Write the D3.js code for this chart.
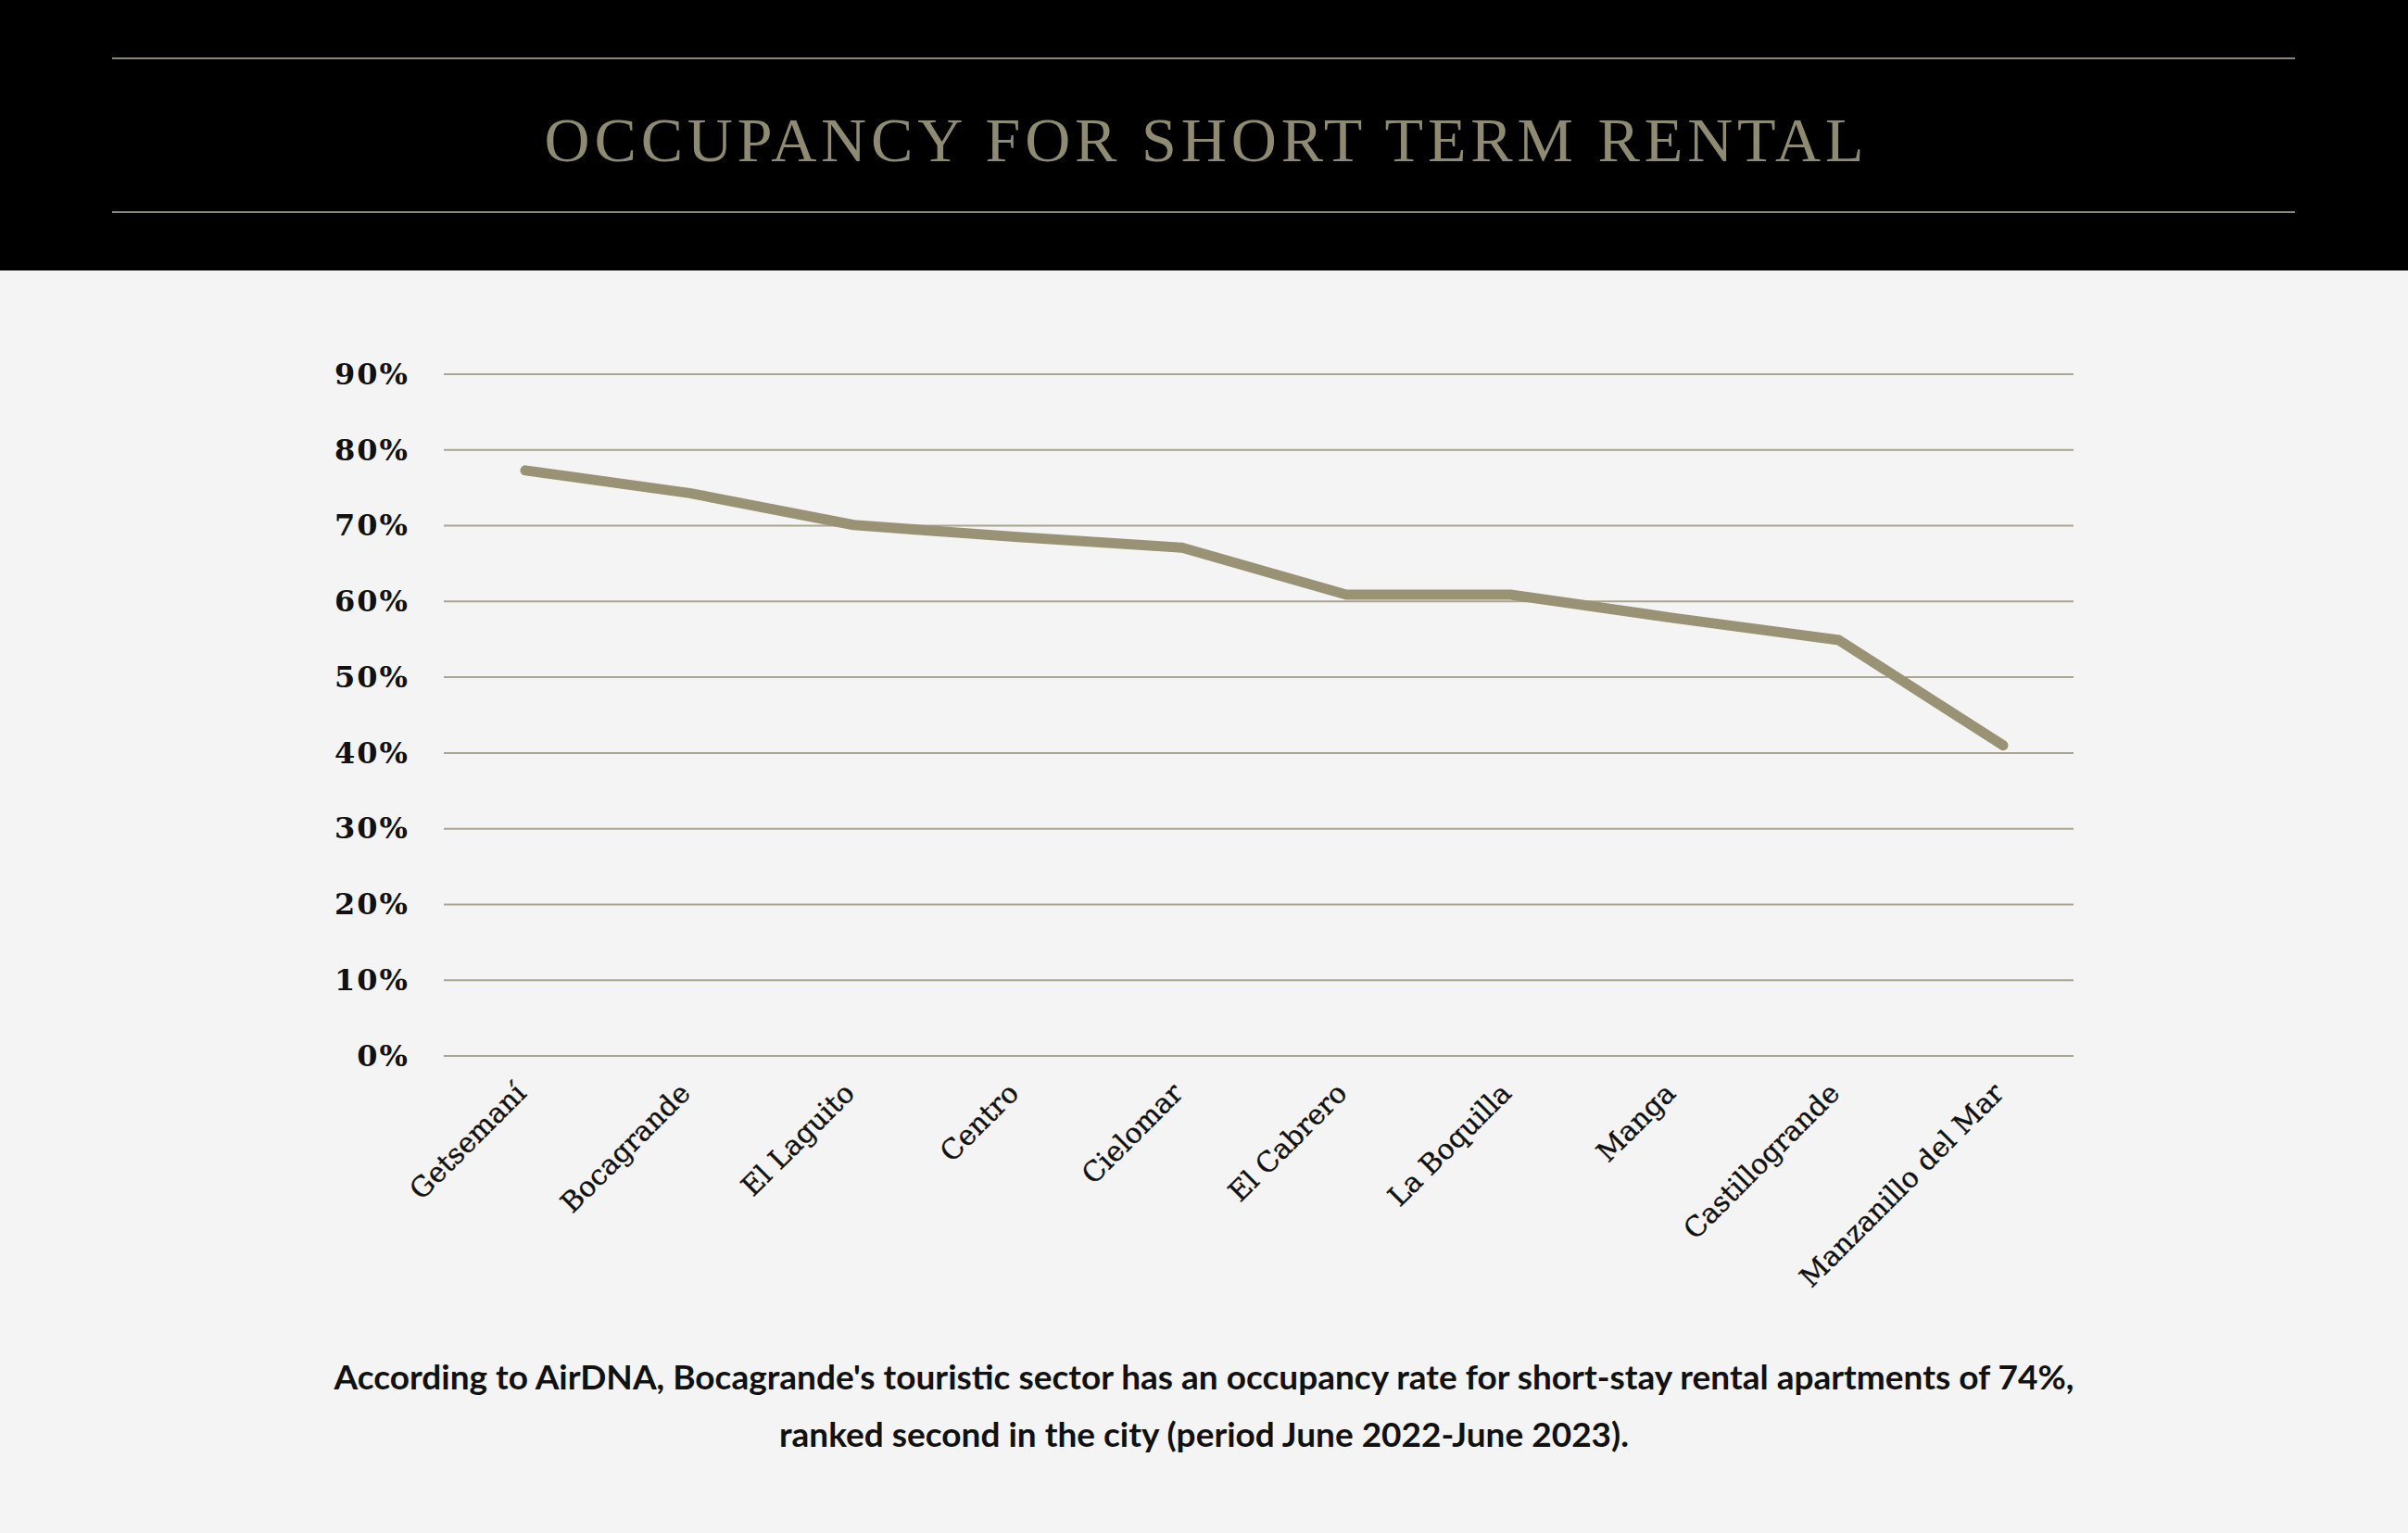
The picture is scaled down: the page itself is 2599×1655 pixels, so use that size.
<!DOCTYPE html>
<html>
<head>
<meta charset="utf-8">
<script src="https://cdn.jsdelivr.net/npm/d3@7"></script>
<style>
  body { margin: 0; background: #f4f4f4; }
  svg { display: block; }
</style>
</head>
<body>
<script>
// Width and height
var w = 2599;
var h = 1655;

// Data
var neighbourhoods = ["Getsemaní", "Bocagrande", "El Laguito", "Centro", "Cielomar",
    "El Cabrero", "La Boquilla", "Manga", "Castillogrande", "Manzanillo del Mar"];
var occupancy = [0.773, 0.743, 0.701, 0.685, 0.671, 0.609, 0.609, 0.578, 0.549, 0.41];
var yTicks = [0, 0.1, 0.2, 0.3, 0.4, 0.5, 0.6, 0.7, 0.8, 0.9];
var titleText = "OCCUPANCY FOR SHORT TERM RENTAL";
var footerLines = [
    "According to AirDNA, Bocagrande's touristic sector has an occupancy rate for short-stay rental apartments of 74%,",
    "ranked second in the city (period June 2022-June 2023)."
];

var svg = d3.select("body")
    .append("svg")
    .attr("width", w)
    .attr("height", h);

svg.append("rect").attr("width", w).attr("height", h).attr("fill", "#f4f4f4");

// Header band
var header = svg.append("g");
header.append("rect")
    .attr("width", w)
    .attr("height", 292)
    .attr("fill", "#000");
header.selectAll("line")
    .data([63, 229])
    .enter()
    .append("line")
    .attr("x1", 121)
    .attr("x2", 2477)
    .attr("y1", function (d) { return d; })
    .attr("y2", function (d) { return d; })
    .attr("stroke", "#8c8878")
    .attr("stroke-width", 2);
header.append("text")
    .attr("x", w / 2)
    .attr("y", 174)
    .attr("text-anchor", "middle")
    .attr("textLength", 1424)
    .attr("lengthAdjust", "spacing")
    .style("font-family", "'Liberation Serif', serif")
    .style("font-size", "68px")
    .style("fill", "#8f8a72")
    .text(titleText);

// Chart area
var margin = { left: 479, right: 2238, top: 404, bottom: 1140 };

var x = d3.scalePoint()
    .domain(neighbourhoods)
    .range([567, 2162]);

var y = d3.scaleLinear()
    .domain([0, 0.9])
    .range([margin.bottom, margin.top]);

// Gridlines
svg.append("g")
    .selectAll("line")
    .data(yTicks)
    .enter()
    .append("line")
    .attr("x1", margin.left)
    .attr("x2", margin.right)
    .attr("y1", function (d) { return y(d); })
    .attr("y2", function (d) { return y(d); })
    .attr("stroke", "#a9a590")
    .attr("stroke-width", 2);

// Y axis labels
var yAxis = d3.axisLeft(y)
    .tickValues(yTicks)
    .tickFormat(d3.format(".0%"))
    .tickSize(0)
    .tickPadding(0);

var yg = svg.append("g")
    .attr("transform", "translate(442,0)")
    .call(yAxis);
yg.select(".domain").remove();
yg.selectAll("text")
    .style("font-family", "'DejaVu Serif', serif")
    .style("font-weight", "bold")
    .style("font-size", "32px")
    .style("fill", "#111")
    .style("letter-spacing", "2px");

// X axis labels
var xAxis = d3.axisBottom(x).tickSize(0).tickPadding(0);
var xg = svg.append("g")
    .attr("transform", "translate(0," + margin.bottom + ")")
    .call(xAxis);
xg.select(".domain").remove();
xg.selectAll("text")
    .attr("text-anchor", "end")
    .attr("dy", 0)
    .attr("transform", "translate(2,42) rotate(-45)")
    .style("font-family", "'DejaVu Serif', serif")
    .style("font-size", "30px")
    .style("fill", "#111")
    .style("stroke", "#111")
    .style("stroke-width", 0.4);

// Line
var line = d3.line()
    .x(function (d, i) { return x(neighbourhoods[i]); })
    .y(function (d) { return y(d); });

svg.append("path")
    .datum(occupancy)
    .attr("d", line)
    .attr("fill", "none")
    .attr("stroke", "#9a9275")
    .attr("stroke-width", 11)
    .attr("stroke-linecap", "round")
    .attr("stroke-linejoin", "round");

// Footer
svg.append("g")
    .selectAll("text")
    .data(footerLines)
    .enter()
    .append("text")
    .attr("x", w / 2)
    .attr("y", function (d, i) { return 1500 + i * 62; })
    .attr("text-anchor", "middle")
    .style("font-family", "Lato, sans-serif")
    .style("font-weight", "bold")
    .style("font-size", "37px")
    .style("fill", "#111")
    .text(function (d) { return d; });
</script>
</body>
</html>
